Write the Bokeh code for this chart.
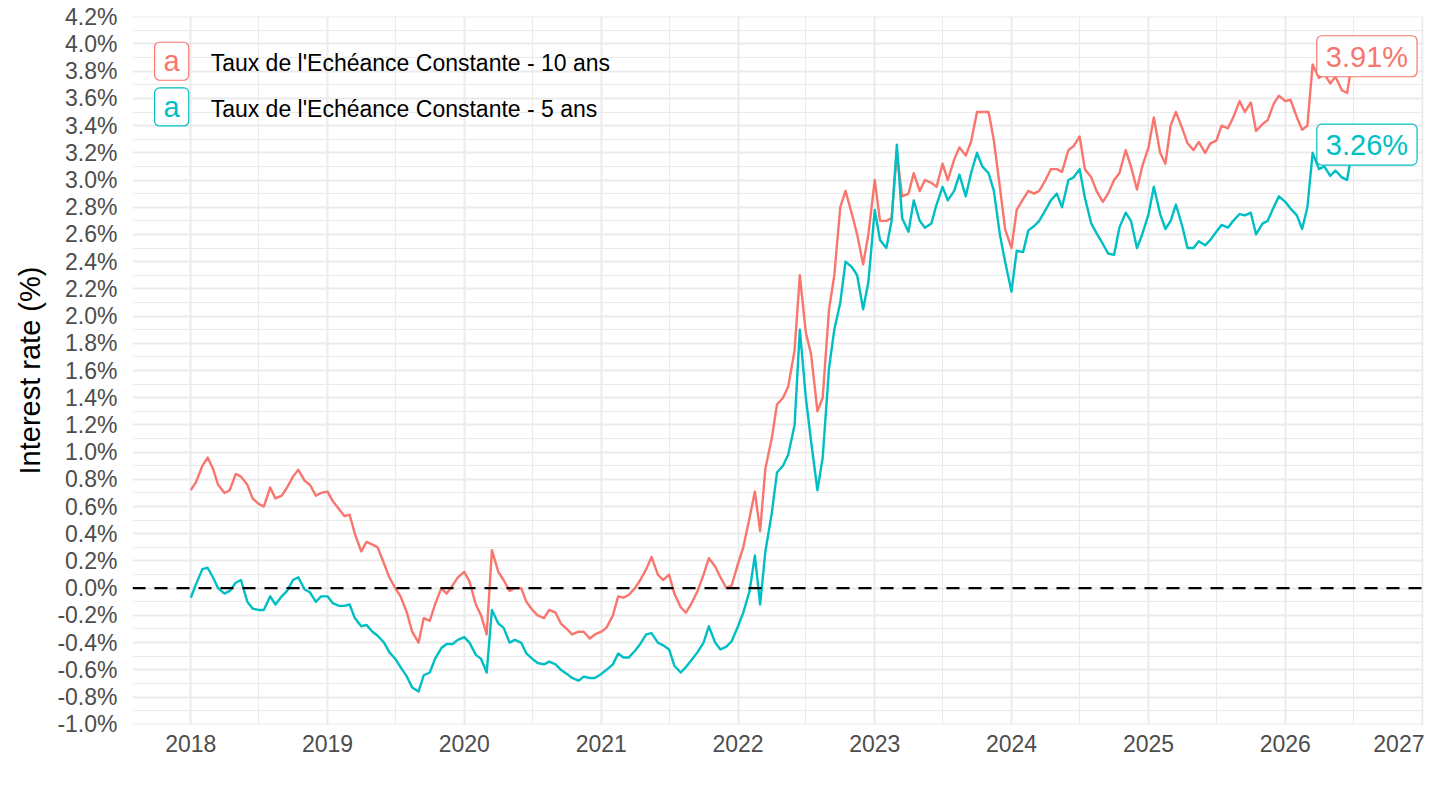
import pandas as pd
from bokeh.plotting import figure
from bokeh.models import (ColumnDataSource, Range1d, FixedTicker, PrintfTickFormatter,
                          DatetimeTickFormatter, Span, Label)
from bokeh.embed import file_html
from bokeh.resources import INLINE

RED = "#F8766D"
TEAL = "#00BFC4"
FONT = "Liberation Sans"

# semi-monthly readings (1st and 15th of each month), in %
ten_2018 = [0.72, 0.78, 0.90, 0.96, 0.88, 0.76, 0.70, 0.72, 0.84, 0.82, 0.76, 0.66,
            0.62, 0.60, 0.74, 0.66, 0.68, 0.74, 0.82, 0.87, 0.79, 0.76, 0.68, 0.70]
ten_2019 = [0.71, 0.64, 0.58, 0.53, 0.54, 0.40, 0.27, 0.34, 0.32, 0.30, 0.18, 0.08,
            0.00, -0.06, -0.18, -0.32, -0.40, -0.22, -0.24, -0.12, 0.00, -0.04, 0.02, 0.08]
ten_2020 = [0.12, 0.05, -0.12, -0.20, -0.34, 0.28, 0.12, 0.06, -0.02, 0.00, 0.00, -0.10,
            -0.16, -0.20, -0.22, -0.16, -0.18, -0.26, -0.30, -0.34, -0.32, -0.32, -0.37, -0.34]
ten_2021 = [-0.32, -0.29, -0.20, -0.06, -0.07, -0.05, 0.00, 0.06, 0.14, 0.23, 0.10, 0.06,
            0.10, -0.04, -0.14, -0.18, -0.10, -0.02, 0.10, 0.22, 0.16, 0.08, 0.00, 0.02]
ten_2022 = [0.18, 0.30, 0.52, 0.71, 0.42, 0.88, 1.10, 1.35, 1.40, 1.48, 1.75, 2.30,
            1.88, 1.72, 1.30, 1.40, 2.05, 2.30, 2.80, 2.92, 2.75, 2.60, 2.38, 2.60]
ten_2023 = [3.00, 2.70, 2.70, 2.72, 3.20, 2.88, 2.90, 3.05, 2.92, 3.00, 2.98, 2.95,
            3.12, 3.00, 3.15, 3.24, 3.18, 3.28, 3.50, 3.50, 3.50, 3.29, 2.95, 2.64]
ten_2024 = [2.50, 2.78, 2.86, 2.92, 2.90, 2.92, 3.00, 3.08, 3.08, 3.06, 3.22, 3.25,
            3.32, 3.08, 3.02, 2.92, 2.84, 2.90, 3.00, 3.05, 3.22, 3.10, 2.93, 3.10]
ten_2025 = [3.24, 3.46, 3.20, 3.12, 3.40, 3.50, 3.38, 3.27, 3.22, 3.28, 3.20, 3.27,
            3.29, 3.40, 3.38, 3.46, 3.58, 3.50, 3.57, 3.36, 3.41, 3.44, 3.56, 3.62]
ten_2026 = [3.58, 3.59, 3.46, 3.37, 3.40, 3.85, 3.75, 3.78, 3.71, 3.76, 3.66, 3.64, 3.91]

five_2018 = [-0.07, 0.03, 0.14, 0.15, 0.08, 0.00, -0.04, -0.02, 0.04, 0.06, -0.10, -0.15,
             -0.16, -0.16, -0.06, -0.12, -0.06, -0.02, 0.06, 0.08, -0.01, -0.03, -0.10, -0.06]
five_2019 = [-0.06, -0.11, -0.13, -0.13, -0.12, -0.22, -0.28, -0.27, -0.32, -0.35, -0.40, -0.47,
             -0.52, -0.58, -0.65, -0.73, -0.76, -0.64, -0.62, -0.52, -0.44, -0.41, -0.41, -0.38]
five_2020 = [-0.36, -0.40, -0.49, -0.52, -0.62, -0.16, -0.26, -0.29, -0.40, -0.38, -0.40, -0.48,
             -0.52, -0.55, -0.56, -0.54, -0.56, -0.60, -0.63, -0.66, -0.68, -0.65, -0.66, -0.66]
five_2021 = [-0.63, -0.60, -0.56, -0.48, -0.51, -0.51, -0.46, -0.41, -0.34, -0.33, -0.40, -0.42,
             -0.45, -0.57, -0.62, -0.58, -0.52, -0.47, -0.40, -0.28, -0.40, -0.45, -0.43, -0.39]
five_2022 = [-0.28, -0.18, -0.02, 0.24, -0.12, 0.27, 0.55, 0.85, 0.90, 0.98, 1.20, 1.90,
             1.40, 1.08, 0.72, 0.96, 1.62, 1.90, 2.10, 2.40, 2.36, 2.30, 2.05, 2.25]
five_2023 = [2.78, 2.56, 2.50, 2.70, 3.26, 2.72, 2.62, 2.85, 2.70, 2.65, 2.68, 2.82,
             2.95, 2.85, 2.92, 3.04, 2.88, 3.05, 3.20, 3.10, 3.05, 2.92, 2.60, 2.40]
five_2024 = [2.18, 2.48, 2.47, 2.63, 2.66, 2.70, 2.78, 2.85, 2.90, 2.80, 3.00, 3.02,
             3.08, 2.87, 2.68, 2.61, 2.53, 2.46, 2.45, 2.65, 2.76, 2.70, 2.50, 2.60]
five_2025 = [2.75, 2.95, 2.75, 2.64, 2.70, 2.82, 2.66, 2.50, 2.50, 2.55, 2.52, 2.56,
             2.62, 2.67, 2.65, 2.70, 2.75, 2.74, 2.76, 2.60, 2.68, 2.70, 2.80, 2.88]
five_2026 = [2.84, 2.79, 2.74, 2.64, 2.80, 3.20, 3.08, 3.10, 3.03, 3.07, 3.02, 3.00, 3.26]

ten_year = ten_2018 + ten_2019 + ten_2020 + ten_2021 + ten_2022 + ten_2023 + ten_2024 + ten_2025 + ten_2026
five_year = five_2018 + five_2019 + five_2020 + five_2021 + five_2022 + five_2023 + five_2024 + five_2025 + five_2026

series_names = ["Taux de l'Echéance Constante - 10 ans", "Taux de l'Echéance Constante - 5 ans"]
years = [2018, 2019, 2020, 2021, 2022, 2023, 2024, 2025, 2026, 2027]
y_ticks = [-1.0, -0.8, -0.6, -0.4, -0.2, 0.0, 0.2, 0.4, 0.6, 0.8, 1.0, 1.2, 1.4, 1.6, 1.8,
           2.0, 2.2, 2.4, 2.6, 2.8, 3.0, 3.2, 3.4, 3.6, 3.8, 4.0, 4.2]
y_minor = [-0.9, -0.7, -0.5, -0.3, -0.1, 0.1, 0.3, 0.5, 0.7, 0.9, 1.1, 1.3, 1.5, 1.7,
           1.9, 2.1, 2.3, 2.5, 2.7, 2.9, 3.1, 3.3, 3.5, 3.7, 3.9, 4.1]

dates = pd.date_range("2018-01-01", periods=len(ten_year), freq="SMS")


def ms(d):
    return pd.Timestamp(d).value / 1e6


DAY = 86400000.0
src = ColumnDataSource(data=dict(date=dates, ten=ten_year, five=five_year))

p = figure(width=1424, height=794, x_axis_type="datetime",
           x_range=Range1d(ms("2018-01-01") - 155.6 * DAY, ms("2027-01-05")),
           y_range=Range1d(-1.002, 4.202),
           output_backend="svg", toolbar_location=None,
           min_border_left=132, min_border_right=1, min_border_top=16, min_border_bottom=70,
           background_fill_color="white", border_fill_color="white", outline_line_color=None)

xt = FixedTicker(ticks=[ms(f"{y}-01-01") for y in years],
                 minor_ticks=[ms(f"{y}-07-01") for y in years[:-1]])
yt = FixedTicker(ticks=y_ticks, minor_ticks=y_minor)
p.xaxis.ticker = xt
p.xgrid.ticker = xt
p.yaxis.ticker = yt
p.ygrid.ticker = yt
p.xaxis.formatter = DatetimeTickFormatter(years="%Y", months="%Y", days="%Y")
p.yaxis.formatter = PrintfTickFormatter(format="%.1f%%")

for g in (p.xgrid, p.ygrid):
    g.grid_line_color = "#EBEBEB"
    g.grid_line_width = 2
    g.minor_grid_line_color = "#EBEBEB"
    g.minor_grid_line_width = 1.1

for ax in p.axis:
    ax.axis_line_color = None
    ax.major_tick_line_color = None
    ax.minor_tick_line_color = None
    ax.major_tick_out = 0
    ax.minor_tick_out = 0
    ax.major_label_text_font = FONT
    ax.major_label_text_font_size = "23px"
    ax.major_label_text_color = "#4D4D4D"

p.xaxis.major_label_standoff = 10
p.yaxis.major_label_standoff = 15
p.yaxis.axis_label = "Interest rate (%)"
p.yaxis.axis_label_text_font = FONT
p.yaxis.axis_label_text_font_style = "normal"
p.yaxis.axis_label_text_font_size = "29px"
p.yaxis.axis_label_text_color = "black"
p.yaxis.axis_label_standoff = 8

p.line("date", "ten", source=src, color=RED, line_width=2.4, line_join="round")
p.line("date", "five", source=src, color=TEAL, line_width=2.4, line_join="round")

p.add_layout(Span(location=0, dimension="width", line_color="black",
                  line_width=2.2, line_dash="13 9"))

# end-of-series value labels
last_x = ms(dates[-1]) + 37 * DAY
for val, col in ((ten_year[-1], RED), (five_year[-1], TEAL)):
    p.add_layout(Label(x=last_x, y=val, text=f"{val:.2f}%", text_align="center",
                       text_baseline="middle", text_color=col, text_font=FONT,
                       text_font_size="29px", border_line_color=col, border_line_width=1.2,
                       background_fill_color="white", border_radius=5,
                       padding=dict(left=9, right=9, top=5, bottom=4)))

# legend drawn as label keys
key_x = ms("2017-11-11")
text_x = ms("2018-02-23")
for name, col, ky in ((series_names[0], RED, 3.873), (series_names[1], TEAL, 3.537)):
    p.add_layout(Label(x=key_x, y=ky, text="a", text_align="center", text_baseline="middle",
                       text_color=col, text_font=FONT, text_font_size="29px",
                       border_line_color=col, border_line_width=1.2,
                       background_fill_color="white", border_radius=5,
                       padding=dict(left=9, right=9, top=3, bottom=3)))
    p.add_layout(Label(x=text_x, y=ky - 0.015, text=name, text_align="left",
                       text_baseline="middle", text_color="black", text_font=FONT,
                       text_font_size="23px"))

open("out.html", "w").write(file_html(p, INLINE))
